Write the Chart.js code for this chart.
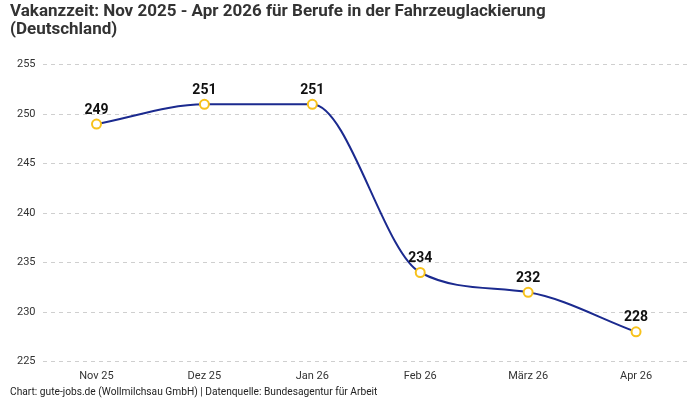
<!DOCTYPE html>
<html>
<head>
<meta charset="utf-8">
<script src="https://cdn.jsdelivr.net/npm/chart.js@4"></script>
<style>
    html, body { margin: 0; padding: 0; background: #fff; }
    #wrap { width: 700px; height: 400px; }
</style>
</head>
<body>
<div id="wrap"><canvas id="vakanz"></canvas></div>
<script>
const months = ['Nov 25', 'Dez 25', 'Jan 26', 'Feb 26', 'März 26', 'Apr 26'];
const vakanzTage = [249, 251, 251, 234, 232, 228];
const yTicks = [225, 230, 235, 240, 245, 250, 255];

// draws the value above each point (no datalabels plugin offline)
const pointValues = {
    id: 'pointValues',
    afterDatasetsDraw: (chart) => {
        const ctx = chart.ctx;
        const meta = chart.getDatasetMeta(0);
        ctx.save();
        ctx.font = 'bold 14px Roboto';
        ctx.fillStyle = '#111';
        ctx.textAlign = 'center';
        ctx.textBaseline = 'bottom';
        meta.data.forEach((pt, i) => {
            ctx.fillText(vakanzTage[i], pt.x, pt.y - 7);
        });
        ctx.restore();
    }
};

new Chart(document.getElementById('vakanz'), {
    type: 'line',
    data: {
        labels: months,
        datasets: [{
            data: vakanzTage,
            borderColor: '#1b2a8f',
            borderWidth: 2,
            cubicInterpolationMode: 'monotone',
            pointRadius: 4.5,
            pointBorderWidth: 2,
            pointBackgroundColor: '#fff',
            pointBorderColor: '#f7c21c',
            pointHoverRadius: 4.5
        }]
    },
    options: {
        responsive: true,
        maintainAspectRatio: false,
        animation: false,
        layout: { padding: { left: 10, right: 10, top: 0, bottom: 0 } },
        plugins: {
            legend: { display: false },
            tooltip: { enabled: false },
            title: {
                display: true,
                text: ['Vakanzzeit: Nov 2025 - Apr 2026 für Berufe in der Fahrzeuglackierung', '(Deutschland)'],
                align: 'start',
                color: '#333',
                font: { family: 'Roboto', size: 17, weight: 'bold', lineHeight: 1.05 },
                padding: { top: 3, bottom: 26 }
            },
            subtitle: {
                display: true,
                position: 'bottom',
                text: 'Chart: gute-jobs.de (Wollmilchsau GmbH) | Datenquelle: Bundesagentur für Arbeit',
                align: 'start',
                color: '#222',
                font: { family: 'Roboto', size: 10.2 },
                padding: { top: 4, bottom: 1 }
            }
        },
        scales: {
            x: {
                offset: true,
                grid: { display: false },
                border: { display: false },
                ticks: { color: '#333', font: { family: 'Roboto', size: 11 }, padding: 0 }
            },
            y: {
                min: 225,
                max: 255,
                afterBuildTicks: (axis) => { axis.ticks = yTicks.map(v => ({ value: v })); },
                grid: { color: '#cfcfcf', drawTicks: false },
                border: { display: false, dash: [4, 4] },
                ticks: { color: '#333', font: { family: 'Roboto', size: 11 }, padding: 7 }
            }
        }
    },
    plugins: [pointValues]
});
</script>
</body>
</html>
